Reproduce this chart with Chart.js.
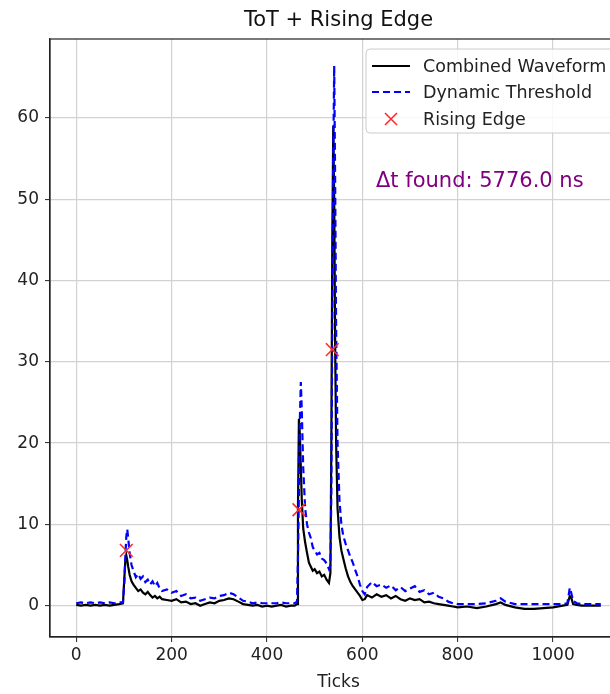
<!DOCTYPE html>
<html>
<head>
<meta charset="utf-8">
<script src="https://cdn.jsdelivr.net/npm/chart.js@4.4.1/dist/chart.umd.min.js"></script>
<style>
  html, body { margin: 0; padding: 0; background: #fff; overflow: hidden; }
  #wrap { width: 610px; height: 694px; overflow: hidden; position: relative; }
  canvas { display: block; }
</style>
</head>
<body>
<div id="wrap"><canvas id="chart" width="640" height="694"></canvas></div>
<script>
// sample positions (ticks) shared by both traces
var ticks = [0,10,20,30,40,50,60,70,80,90,98,101,103,105,107,109,112,116,120,125,
  130,135,140,145,150,155,160,165,170,175,180,190,200,210,220,230,240,250,260,270,
  280,290,300,310,320,330,340,350,360,370,380,390,400,410,420,430,440,450,458,463,
  465,467,469,471,473,476,480,484,488,492,496,500,505,510,515,520,525,530,533,535,
  537,539,541,543,545,548,552,556,560,565,570,575,580,585,590,595,600,605,610,620,
  630,640,650,660,670,680,690,700,710,720,730,740,750,760,770,780,790,800,820,840,
  860,880,890,900,920,940,960,980,1000,1020,1030,1035,1038,1042,1050,1060,1080,1100];

var combined = [0.1,0.0,0.1,0.0,0.1,0.0,0.1,0.0,0.1,0.2,0.3,3.5,5.5,6.2,5.6,4.8,3.8,3.0,2.6,2.2,
  1.8,2.0,1.6,1.4,1.7,1.3,1.0,1.2,0.9,1.1,0.8,0.7,0.6,0.8,0.4,0.5,0.2,0.3,0.0,0.2,
  0.4,0.3,0.6,0.7,0.9,0.8,0.5,0.2,0.1,0.0,0.1,-0.1,0.0,-0.1,0.0,0.1,-0.1,0.0,0.0,0.2,
  12,23,21,17,13,9.5,7.8,6.5,5.3,4.8,4.3,4.5,4.0,4.2,3.6,3.8,3.2,2.8,4,20,
  45,59,50,32,20,12,8.5,6.8,5.8,4.6,3.6,2.9,2.4,2.0,1.6,1.2,0.7,0.8,1.3,1.0,
  1.4,1.1,1.3,0.9,1.2,0.8,0.6,0.9,0.7,0.8,0.4,0.5,0.3,0.2,0.1,0.0,-0.1,-0.2,-0.1,-0.3,
  -0.1,0.2,0.4,0.1,-0.2,-0.4,-0.4,-0.3,-0.2,0.0,0.1,1.2,1.0,0.2,0.1,0.0,0.0,0.0];

var threshold = [0.3,0.4,0.3,0.4,0.3,0.4,0.3,0.4,0.3,0.4,0.4,3,6,8.5,9.4,8.3,6.5,5.0,4.3,3.5,
  3.9,3.3,3.6,2.9,3.2,2.6,3.0,2.4,2.8,2.1,1.8,2.0,1.6,1.8,1.2,1.4,0.9,1.0,0.6,0.8,
  1.0,0.9,1.2,1.3,1.6,1.4,1.0,0.6,0.5,0.3,0.4,0.3,0.3,0.3,0.3,0.4,0.3,0.3,0.3,0.5,
  6,14,23,27.5,24,17,12,10,9,8.3,7.2,6.8,6.3,6.5,5.8,5.6,5.2,4.5,5,14,
  35,55,66.4,52,34,20,13,10,8.6,7.6,6.8,6.0,5.3,4.4,3.6,2.6,1.8,1.4,2.3,2.9,
  2.4,2.6,2.2,2.5,1.9,2.3,1.8,2.1,2.4,1.7,1.9,1.4,1.6,1.1,0.9,0.5,0.3,0.2,0.2,0.2,
  0.3,0.6,0.9,0.5,0.2,0.2,0.2,0.2,0.2,0.2,0.3,2.2,1.6,0.6,0.3,0.2,0.2,0.2];

var edgeTicks = [105, 467, 537];
var edgeValues = [6.8, 11.8, 31.5];

var xTickValues = [0, 200, 400, 600, 800, 1000];
var yTickValues = [0, 10, 20, 30, 40, 50, 60];

var titleText = 'ToT + Rising Edge';
var deltaText = '\u0394t found: 5776.0 ns';
var legendLabels = ['Combined Waveform', 'Dynamic Threshold', 'Rising Edge'];

function toPoints(xs, ys) {
  var pts = [];
  for (var i = 0; i < xs.length; i++) pts.push({x: xs[i], y: ys[i]});
  return pts;
}

var FONT = '"DejaVu Sans", sans-serif';
var BLUE_DASH = [7, 4];

// title, frame, legend box and the delta-t note, matplotlib style
var extras = {
  id: 'extras',
  afterDraw: function(chart) {
    var ctx = chart.ctx, a = chart.chartArea;
    ctx.save();
    ctx.strokeStyle = '#222';
    ctx.lineWidth = 1.2;
    ctx.strokeRect(a.left, a.top, a.right - a.left, a.bottom - a.top);

    ctx.fillStyle = '#111';
    ctx.font = '21px ' + FONT;
    ctx.textAlign = 'center';
    ctx.textBaseline = 'middle';
    ctx.fillText(titleText, (a.left + a.right) / 2, 21);

    ctx.fillStyle = 'purple';
    ctx.textAlign = 'left';
    ctx.fillText(deltaText, 376, 182);

    // legend
    var bx = 366, by = 49, bw = 268, bh = 84;
    ctx.beginPath();
    ctx.roundRect(bx, by, bw, bh, 4);
    ctx.fillStyle = 'rgba(255,255,255,0.85)';
    ctx.fill();
    ctx.strokeStyle = '#cccccc';
    ctx.lineWidth = 1;
    ctx.stroke();

    var rows = [66, 92, 119];
    ctx.lineWidth = 2.2;
    ctx.strokeStyle = '#000';
    ctx.beginPath(); ctx.moveTo(372, rows[0]); ctx.lineTo(410, rows[0]); ctx.stroke();
    ctx.strokeStyle = '#0000ff';
    ctx.setLineDash(BLUE_DASH);
    ctx.beginPath(); ctx.moveTo(372, rows[1]); ctx.lineTo(410, rows[1]); ctx.stroke();
    ctx.setLineDash([]);
    ctx.strokeStyle = '#ff2a2a';
    ctx.lineWidth = 1.6;
    ctx.beginPath();
    ctx.moveTo(385, rows[2] - 6); ctx.lineTo(397, rows[2] + 6);
    ctx.moveTo(397, rows[2] - 6); ctx.lineTo(385, rows[2] + 6);
    ctx.stroke();

    ctx.fillStyle = '#222';
    ctx.font = '17.5px ' + FONT;
    for (var i = 0; i < legendLabels.length; i++) {
      ctx.fillText(legendLabels[i], 423, rows[i] + 1);
    }
    ctx.restore();
  }
};

var ctx = document.getElementById('chart').getContext('2d');
var chart = new Chart(ctx, {
  type: 'scatter',
  data: {
    datasets: [
      {
        label: legendLabels[2],
        data: toPoints(edgeTicks, edgeValues),
        showLine: false,
        pointStyle: 'crossRot',
        pointRadius: 9,
        pointBorderWidth: 1.6,
        pointBorderColor: '#ff2a2a',
        pointBackgroundColor: '#ff2a2a',
        order: 0
      },
      {
        label: legendLabels[1],
        data: toPoints(ticks, threshold),
        showLine: true,
        borderColor: '#0000ff',
        borderWidth: 2.2,
        borderDash: BLUE_DASH,
        pointRadius: 0,
        tension: 0,
        order: 1
      },
      {
        label: legendLabels[0],
        data: toPoints(ticks, combined),
        showLine: true,
        borderColor: '#000000',
        borderWidth: 2.2,
        pointRadius: 0,
        tension: 0,
        order: 2
      }
    ]
  },
  options: {
    responsive: false,
    animation: false,
    clip: false,
    layout: { padding: { top: 39, right: 13, left: 0, bottom: 0 } },
    plugins: {
      legend: { display: false },
      title: { display: false },
      tooltip: { enabled: false }
    },
    scales: {
      x: {
        type: 'linear',
        min: -55,
        max: 1155,
        afterFit: function(s) { s.height = 57; },
        afterBuildTicks: function(s) { s.ticks = xTickValues.map(function(v) { return {value: v}; }); },
        grid: { color: '#d2d2d2', lineWidth: 1.2, tickColor: '#222', tickLength: 5, tickWidth: 1 },
        border: { display: true, color: '#222', width: 1.2 },
        ticks: { color: '#222', font: { family: FONT, size: 17 }, padding: 3, maxRotation: 0,
                 callback: function(v) { return String(v); } },
        title: { display: true, text: 'Ticks', color: '#222', font: { family: FONT, size: 17 }, padding: { top: 0, bottom: 1 } }
      },
      y: {
        type: 'linear',
        min: -3.85,
        max: 69.7,
        afterFit: function(s) { s.width = 50; },
        afterBuildTicks: function(s) { s.ticks = yTickValues.map(function(v) { return {value: v}; }); },
        grid: { color: '#d2d2d2', lineWidth: 1.2, tickColor: '#222', tickLength: 5, tickWidth: 1 },
        border: { display: true, color: '#222', width: 1.2 },
        ticks: { color: '#222', font: { family: FONT, size: 17 }, padding: 6,
                 callback: function(v) { return String(v); } }
      }
    }
  },
  plugins: [extras]
});
</script>
</body>
</html>
